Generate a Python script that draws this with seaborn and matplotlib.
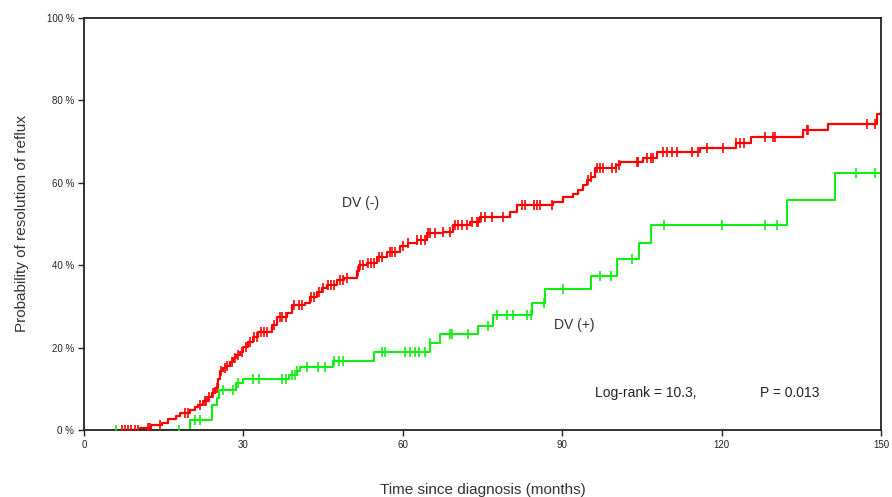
import numpy as np
import pandas as pd
import matplotlib
matplotlib.use("Agg")
import matplotlib.pyplot as plt
import seaborn as sns

# ---------------- data ----------------
# DV (-) : event times (months) and cumulative probability (%) after each step
red_times = [7.0, 10.5, 12.7, 14.6, 15.9, 17.4, 18.1, 20.0, 20.9, 21.5, 22.4, 23.3, 24.0, 24.6,
             25.3, 25.6, 26.2, 26.8, 27.5, 28.1, 28.7, 29.4, 30.0, 30.9, 31.9, 32.8, 35.3,
             36.3, 38.2, 39.1, 41.6, 42.5, 43.8, 44.8, 45.7, 47.6, 49.0, 51.3, 51.8, 53.2,
             55.1, 57.0, 59.5, 61.0, 62.6, 64.5, 67.6, 69.5, 72.7, 74.5, 80.2, 81.4, 88.3,
             90.2, 92.1, 93.0, 94.0, 94.6, 95.5, 96.2, 100.2, 100.9, 105.3, 107.8, 115.9,
             122.8, 125.6, 135.3, 140.1, 149.2]
red_vals = [0.0, 0.6, 1.2, 1.6, 2.6, 3.4, 4.2, 4.9, 5.5, 6.1, 7.1, 8.1, 8.9, 10.1,
            12.5, 14.2, 15.0, 15.5, 16.6, 17.4, 18.2, 19.0, 20.2, 21.4, 22.6, 23.9, 25.5,
            27.5, 28.3, 30.3, 30.9, 32.4, 33.6, 34.4, 35.2, 36.4, 37.0, 38.5, 40.0, 40.6,
            42.1, 43.3, 44.7, 45.3, 46.1, 47.7, 48.1, 49.8, 50.6, 51.8, 53.0, 54.6, 55.4,
            56.6, 57.4, 58.3, 59.5, 60.7, 61.5, 63.5, 64.3, 65.1, 65.9, 67.5, 68.4,
            69.6, 71.0, 72.7, 74.3, 76.7]
red_censor = [7.1, 7.7, 8.3, 8.9, 9.6, 10.2, 12.1, 12.4, 14.3, 19.0, 19.6, 21.8, 22.7, 23.0,
              23.5, 24.3, 25.0, 25.8, 26.5, 27.0, 27.8, 28.4, 29.0, 29.8, 30.5, 31.2, 32.0,
              32.5, 33.3, 33.8, 34.5, 35.8, 36.8, 37.3, 38.0, 39.5, 40.5, 41.0, 42.8, 43.2,
              44.2, 45.0, 46.0, 46.5, 47.0, 48.2, 48.7, 49.5, 51.5, 52.0, 52.6, 53.5, 54.0,
              54.6, 55.5, 56.0, 57.5, 58.0, 58.6, 60.1, 61.0, 62.6, 63.5, 64.2, 64.8, 65.1,
              66.0, 67.6, 68.9, 69.8, 70.4, 71.1, 72.0, 73.0, 73.9, 74.2, 74.8, 75.5, 76.7,
              78.9, 82.4, 83.0, 84.6, 85.2, 85.8, 88.0, 94.9, 95.5, 96.5, 97.1, 97.6, 99.3,
              100.1, 100.6, 104.0, 104.3, 105.9, 106.8, 107.0, 109.0, 109.8, 110.6, 111.6,
              114.4, 115.6, 117.2, 120.2, 122.8, 123.5, 124.3, 128.2, 129.6, 130.0, 136.0,
              136.3, 147.3, 148.9]

# DV (+)
green_times = [6.0, 20.0, 24.0, 25.0, 25.4, 28.7, 30.0, 38.5, 40.0, 40.6, 46.9, 54.5, 65.1,
               67.0, 74.2, 76.9, 84.3, 86.8, 95.4, 100.4, 104.5, 106.7, 132.4, 141.3]
green_vals = [0.0, 2.4, 6.1, 7.8, 9.7, 11.4, 12.4, 13.3, 14.4, 15.4, 16.8, 19.0, 21.0,
              23.2, 25.3, 27.9, 30.9, 34.2, 37.4, 41.4, 45.5, 49.8, 55.8, 62.3]
green_censor = [6.1, 17.9, 20.9, 21.8, 26.2, 28.1, 29.0, 31.9, 33.0, 37.2, 38.0, 39.1, 39.7,
                40.1, 41.9, 44.1, 45.4, 47.0, 47.9, 48.8, 56.0, 56.7, 60.4, 61.4, 62.3, 63.1,
                64.2, 65.1, 68.8, 69.2, 72.3, 76.1, 77.7, 79.6, 80.8, 83.3, 84.1, 86.6, 90.1,
                97.1, 99.1, 103.2, 109.2, 120.1, 128.2, 130.4, 145.3, 148.9]

x_ticks = [0, 30, 60, 90, 120, 150]
y_ticks = [0, 20, 40, 60, 80, 100]
x_end = 150

RED = "#ff0000"
GREEN = "#11ee11"

# ---------------- build frames ----------------
def curve_frame(times, vals, end):
    t = np.r_[times, end]
    v = np.r_[vals, vals[-1]]
    return pd.DataFrame({"t": t, "p": v})

def censor_frame(times, vals, cens):
    times = np.asarray(times)
    vals = np.asarray(vals)
    idx = np.searchsorted(times, cens, side="right") - 1
    idx = np.clip(idx, 0, len(vals) - 1)
    return pd.DataFrame({"t": cens, "p": vals[idx]})

red_df = curve_frame(red_times, red_vals, x_end)
green_df = curve_frame(green_times, green_vals, x_end)
red_c = censor_frame(red_times, red_vals, red_censor)
green_c = censor_frame(green_times, green_vals, green_censor)

# ---------------- plot ----------------
sns.set_theme(style="white")
plt.rcParams["font.family"] = ["Liberation Sans", "DejaVu Sans"]

fig = plt.figure(figsize=(8.92, 4.97), dpi=100)
ax = fig.add_axes([84 / 892, 1 - 430 / 497, (881 - 84) / 892, (430 - 18) / 497])

sns.lineplot(data=green_df, x="t", y="p", drawstyle="steps-post", color=GREEN,
             linewidth=1.5, ax=ax, sort=False, estimator=None)
sns.lineplot(data=red_df, x="t", y="p", drawstyle="steps-post", color=RED,
             linewidth=1.6, ax=ax, sort=False, estimator=None)
sns.scatterplot(data=green_c, x="t", y="p", marker="|", s=50, color=GREEN,
                linewidth=1.2, ax=ax, zorder=3)
sns.scatterplot(data=red_c, x="t", y="p", marker="|", s=50, color=RED,
                linewidth=1.2, ax=ax, zorder=3)

ax.set_xlim(0, 150)
ax.set_ylim(0, 100)
ax.set_xticks(x_ticks)
ax.set_xticklabels([str(v) for v in x_ticks])
ax.set_yticks(y_ticks)
ax.set_yticklabels([f"{v} %" for v in y_ticks])
ax.tick_params(axis="both", which="major", direction="out", length=4, width=1,
               color="#222222", labelsize=7, labelcolor="#222222", pad=3,
               bottom=True, left=True)
for s in ax.spines.values():
    s.set_color("#222222")
    s.set_linewidth(1.3)
    s.set_visible(True)

ax.set_xlabel("Time since diagnosis (months)", fontsize=11, color="#333333", labelpad=24)
ax.set_ylabel("Probability of resolution of reflux", fontsize=11, color="#333333", labelpad=13)

ax.text(48.5, 55.0, "DV (-)", fontsize=10, color="#333333", ha="left", va="center")
ax.text(88.5, 25.5, "DV (+)", fontsize=10, color="#333333", ha="left", va="center")
ax.text(96.2, 9.0, "Log-rank = 10.3,", fontsize=10, color="#222222", ha="left", va="center")
ax.text(127.2, 9.0, "P = 0.013", fontsize=10, color="#222222", ha="left", va="center")

fig.savefig("out.png", dpi=100)
